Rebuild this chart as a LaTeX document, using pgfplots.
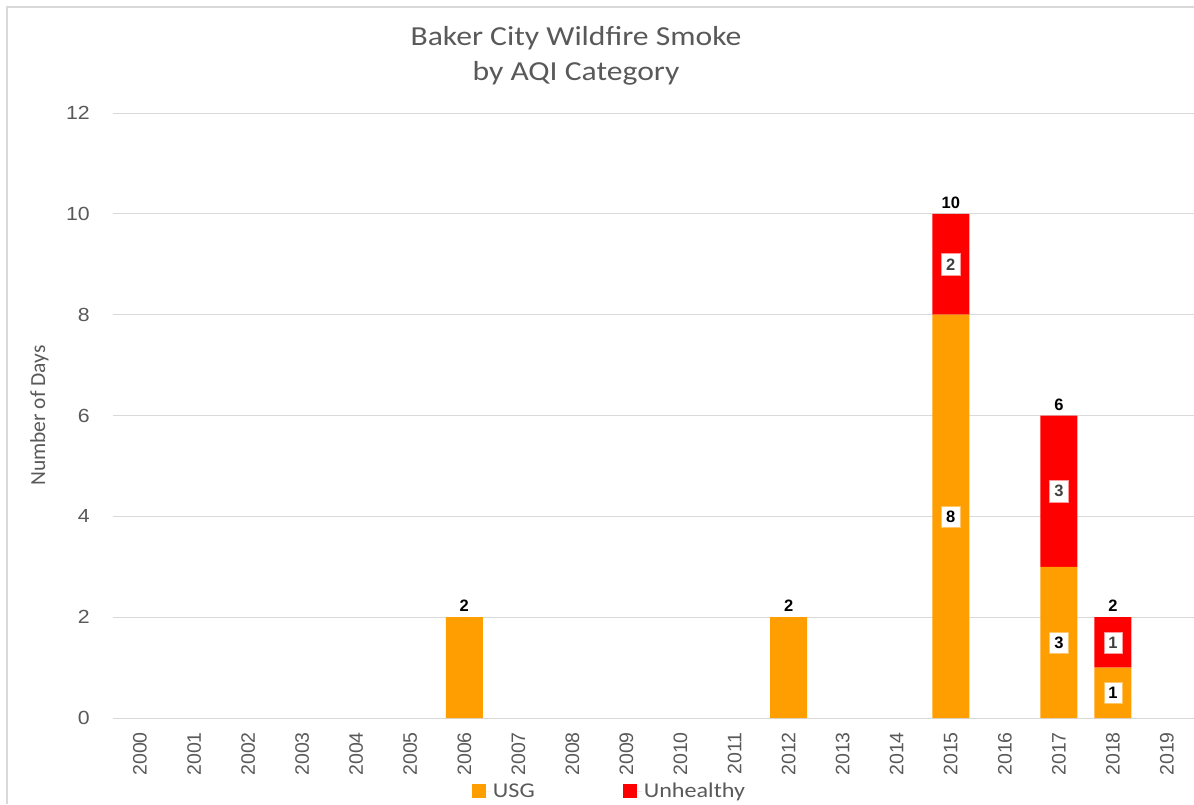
\documentclass[border=0pt]{standalone}
\usepackage{pgfplots}
\pgfplotsset{compat=1.18}
\usepackage{fontspec}
\setmainfont{Liberation Sans}
\newfontfamily\carlito[FakeStretch=1.15]{Carlito}
\newfontfamily\carlitoplain{Carlito}
\newfontfamily\arialw[FakeStretch=1.12]{Liberation Sans}
\definecolor{usg}{RGB}{255,158,0}
\definecolor{unh}{RGB}{255,0,0}
\definecolor{txt}{RGB}{89,89,89}
\definecolor{grd}{RGB}{217,217,217}
\definecolor{lab}{RGB}{64,64,64}
\begin{document}
\begin{tikzpicture}
\path[use as bounding box] (0pt,0pt) rectangle (1194pt,-804pt);
\draw[grd, line width=1.2pt] (7pt,-804pt) -- (7pt,-7pt) -- (1194pt,-7pt);
\begin{axis}[
  at={(113pt,-718pt)}, anchor=south west,
  scale only axis, width=1081pt, height=605pt,
  xmin=-0.5, xmax=19.5, ymin=0, ymax=12,
  ybar stacked, bar width=37pt,
  xtick={0,...,19},
  xticklabels={2000,2001,2002,2003,2004,2005,2006,2007,2008,2009,2010,2011,2012,2013,2014,2015,2016,2017,2018,2019},
  ytick={0,2,...,12},
  ymajorgrids, major grid style={grd, line width=1pt},
  axis line style={draw=none},
  major tick length=0pt,
  /pgf/number format/assume math mode=true,
  xticklabel style={font=\fontsize{19.5}{19.5}\selectfont, text=txt, inner sep=0pt, yshift=-14pt, rotate=90, anchor=east},
  yticklabel style={font=\arialw\fontsize{19}{19}\selectfont, text=txt, inner sep=0pt, xshift=-23pt, anchor=east},
  ylabel={Number of Days},
  ylabel style={at={(axis description cs:-0.068,0.5)}, anchor=center, font=\carlitoplain\fontsize{21.5}{21.5}\selectfont, text=txt},
  title={Baker City Wildfire Smoke\\by AQI Category},
  title style={at={(axis description cs:0.4283,1.0843)}, anchor=center, align=center, font=\carlito\fontsize{27.5}{35}\selectfont, text=txt},
  legend style={at={(axis description cs:0.4593,-0.1207)}, anchor=center, draw=none, fill=none,
     font=\carlito\fontsize{21}{21}\selectfont, text=txt, legend columns=2,
     /tikz/every even column/.append style={column sep=86pt}},
  legend image code/.code={\fill[#1] (0pt,-7pt) rectangle (14pt,7pt); \path (0pt,0pt) -- (19pt,0pt);},
]
\addplot[fill=usg, draw=none] coordinates {(6,2) (12,2) (15,8) (17,3) (18,1)};
\addlegendentry{USG}
\addplot[fill=unh, draw=none] coordinates {(6,0) (12,0) (15,2) (17,3) (18,1)};
\addlegendentry{Unhealthy}
\end{axis}
\begin{axis}[
  at={(113pt,-718pt)}, anchor=south west,
  scale only axis, width=1081pt, height=605pt,
  xmin=-0.5, xmax=19.5, ymin=0, ymax=12,
  hide axis,
]
% segment labels (USG)
\addplot[only marks, mark=*, mark size=0pt, mark options={draw=none,fill=none},
  point meta=explicit symbolic, nodes near coords,
  every node near coord/.style={anchor=center, fill=white, draw=usg!60, line width=0.4pt, inner xsep=4.6pt, inner ysep=4.8pt, text=black, font=\bfseries\fontsize{16.5}{16.5}\selectfont}]
  coordinates {(15,4)[8] (17,1.5)[3] (18,0.5)[1]};
% segment labels (Unhealthy)
\addplot[only marks, mark=*, mark size=0pt, mark options={draw=none,fill=none},
  point meta=explicit symbolic, nodes near coords,
  every node near coord/.style={anchor=center, fill=white, draw=unh!40, line width=0.4pt, inner xsep=4.6pt, inner ysep=4.8pt, text=lab, font=\bfseries\fontsize{16.5}{16.5}\selectfont}]
  coordinates {(15,9)[2] (17,4.5)[3] (18,1.5)[1]};
% totals
\addplot[only marks, mark=*, mark size=0pt, mark options={draw=none,fill=none},
  point meta=explicit symbolic, nodes near coords,
  every node near coord/.style={anchor=south, inner sep=0pt, yshift=5pt, text=black, font=\bfseries\fontsize{16.5}{16.5}\selectfont}]
  coordinates {(6,2)[2] (12,2)[2] (15,10)[10] (17,6)[6] (18,2)[2]};
\end{axis}
\end{tikzpicture}
\end{document}
